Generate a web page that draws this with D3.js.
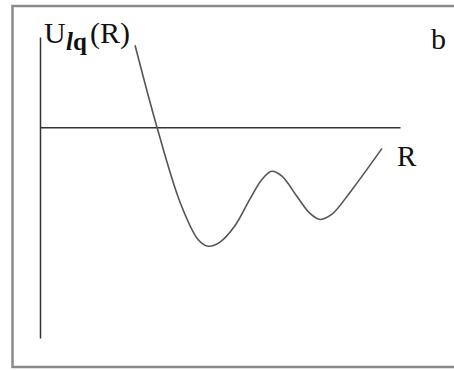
<!DOCTYPE html>
<html lang="en">
<head>
    <meta charset="UTF-8">
    <title>U_lq(R) potential curve</title>
    <script src="https://d3js.org/d3.v7.min.js"></script>
    <style>
        body { margin: 0; background: #fff; }
        .axis path { stroke: #333; stroke-width: 1.5; }
        .lbl { font-family: "Liberation Serif", "DejaVu Serif", serif; fill: #111; }
    </style>
</head>
<body>
    <div id="chart"></div>
    <script>
        // curve (arbitrary units)
        const rValues = [2.64, 3.25, 3.89, 4.39, 4.67, 5.0, 5.42, 5.83, 6.17, 6.44,
                         6.72, 7.14, 7.5, 7.78, 8.11, 8.61, 9.5];
        const uValues = [2.18, 0, -1.99, -2.98, -3.16, -3.05, -2.61, -1.91, -1.38, -1.17,
                         -1.3, -1.84, -2.29, -2.45, -2.31, -1.73, -0.56];
        const rDomain = [0, 10];
        const uDomain = [-5.6, 2.4];

        const width = 454, height = 370;

        const svg = d3.select("#chart").append("svg")
            .attr("width", width)
            .attr("height", height);

        // outer frame (runs off the right edge)
        svg.append("rect")
            .attr("x", 12.5).attr("y", 6)
            .attr("width", 460).attr("height", 361)
            .attr("fill", "none")
            .attr("stroke", "#8a8a8a")
            .attr("stroke-width", 2.5);

        const x = d3.scaleLinear().domain(rDomain).range([40, 400]);
        const y = d3.scaleLinear().domain(uDomain).range([338, 37]);

        svg.append("g")
            .attr("class", "axis")
            .attr("transform", `translate(0,${y(0)})`)
            .call(d3.axisBottom(x).tickValues([]).tickSizeOuter(0));

        svg.append("g")
            .attr("class", "axis")
            .attr("transform", `translate(${x(0)},0)`)
            .call(d3.axisLeft(y).tickValues([]).tickSizeOuter(0));

        const pts = rValues.map((r, i) => [r, uValues[i]]);
        const line = d3.line()
            .x(d => x(d[0]))
            .y(d => y(d[1]))
            .curve(d3.curveCatmullRom);

        svg.append("path")
            .datum(pts)
            .attr("d", line)
            .attr("fill", "none")
            .attr("stroke", "#555")
            .attr("stroke-width", 1.6);

        // labels
        const title = svg.append("text").attr("class", "lbl")
            .attr("y", 43).attr("font-size", 30);
        title.append("tspan").attr("x", 44).text("U");
        title.append("tspan").attr("x", 66).attr("y", 50)
            .attr("font-size", 25).attr("font-weight", "bold").attr("font-style", "italic").text("l");
        title.append("tspan").attr("y", 50)
            .attr("font-size", 25).attr("font-weight", "bold").text("q");
        title.append("tspan").attr("x", 90).attr("y", 43).text("(R)");

        svg.append("text").attr("class", "lbl")
            .attr("x", 397).attr("y", 166).attr("font-size", 29).text("R");

        svg.append("text").attr("class", "lbl")
            .attr("x", 431).attr("y", 49).attr("font-size", 30).text("b");
    </script>
</body>
</html>
